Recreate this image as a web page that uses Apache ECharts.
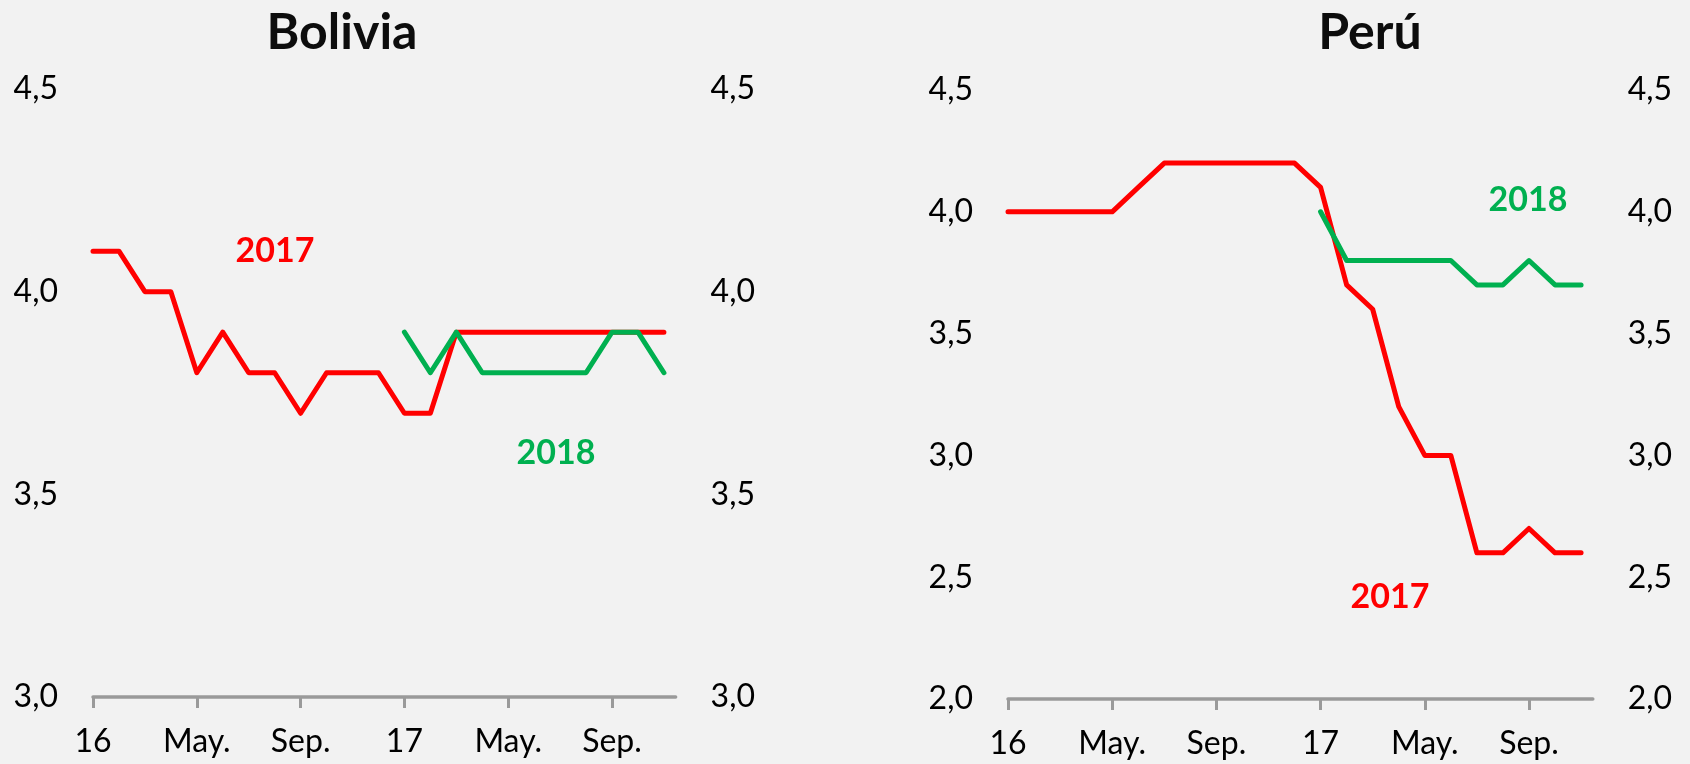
<!DOCTYPE html>
<html>
<head>
<meta charset="utf-8">
<script src="https://cdn.jsdelivr.net/npm/echarts@6/dist/echarts.min.js"></script>
<style>
  html, body { margin: 0; padding: 0; background: #f2f2f2; }
  #chart { width: 1690px; height: 764px; }
</style>
</head>
<body>
<div id="chart"></div>
<script>
// Monthly growth forecasts (%), January 2016 to November 2017
const months = [
  'Ene16','Feb16','Mar16','Abr16','May16','Jun16','Jul16','Ago16','Sep16','Oct16','Nov16','Dic16',
  'Ene17','Feb17','Mar17','Abr17','May17','Jun17','Jul17','Ago17','Sep17','Oct17','Nov17'
];

// Axis tick labels and the month each one marks
const tickLabels = ['16', 'May.', 'Sep.', '17', 'May.', 'Sep.'];
const tickMonths = ['Ene16', 'May16', 'Sep16', 'Ene17', 'May17', 'Sep17'];

const boliviaF2017 = [4.1, 4.1, 4.0, 4.0, 3.8, 3.9, 3.8, 3.8, 3.7, 3.8, 3.8, 3.8,
                      3.7, 3.7, 3.9, 3.9, 3.9, 3.9, 3.9, 3.9, 3.9, 3.9, 3.9];
const boliviaF2018 = [null, null, null, null, null, null, null, null, null, null, null, null,
                      3.9, 3.8, 3.9, 3.8, 3.8, 3.8, 3.8, 3.8, 3.9, 3.9, 3.8];

const peruF2017 = [4.0, 4.0, 4.0, 4.0, 4.0, 4.1, 4.2, 4.2, 4.2, 4.2, 4.2, 4.2,
                   4.1, 3.7, 3.6, 3.2, 3.0, 3.0, 2.6, 2.6, 2.7, 2.6, 2.6];
const peruF2018 = [null, null, null, null, null, null, null, null, null, null, null, null,
                   4.0, 3.8, 3.8, 3.8, 3.8, 3.8, 3.7, 3.7, 3.8, 3.7, 3.7];

const RED = '#ff0000';
const GREEN = '#00b050';
const AXIS_GREY = '#9a9a9a';
const FONT = 'Lato';

const tickPos = tickMonths.map(m => months.indexOf(m));
const toPoints = arr => arr.map((v, i) => [i, v]).filter(p => p[1] !== null);
const fmtComma = v => v.toFixed(1).replace('.', ',');

function xAxisFor(gridIndex) {
  return {
    type: 'value', gridIndex,
    min: 0, max: 22.45,
    splitLine: { show: false },
    axisLine: { show: true, lineStyle: { color: AXIS_GREY, width: 3.5 } },
    axisTick: { show: true, customValues: tickPos, length: 11, lineStyle: { color: AXIS_GREY, width: 3 } },
    axisLabel: {
      customValues: tickPos,
      formatter: v => tickLabels[tickPos.indexOf(v)] || '',
      fontFamily: FONT, fontSize: 32, color: '#000', margin: 29
    }
  };
}

function yAxisFor(gridIndex, position, min, max) {
  return {
    type: 'value', gridIndex, position,
    min, max, interval: 0.5,
    splitLine: { show: false },
    axisLine: { show: false },
    axisTick: { show: false },
    axisLabel: { formatter: fmtComma, fontFamily: FONT, fontSize: 32, color: '#000', margin: 35 }
  };
}

function lineSeries(name, data, color, xi, yi) {
  return {
    name, type: 'line', xAxisIndex: xi, yAxisIndex: yi,
    data: toPoints(data),
    symbol: 'none', silent: true,
    lineStyle: { color, width: 5, cap: 'round', join: 'round' }
  };
}

function note(text, x, y, color) {
  return {
    type: 'text', x, y, silent: true,
    style: { text, fill: color, font: `bold 34px ${FONT}`, align: 'center', verticalAlign: 'middle' }
  };
}

const chart = echarts.init(document.getElementById('chart'), null, { renderer: 'canvas' });

chart.setOption({
  backgroundColor: '#f2f2f2',
  animation: false,
  title: [
    { text: 'Bolivia', left: 337, top: 3, textAlign: 'center',
      textStyle: { fontFamily: FONT, fontWeight: 'bold', fontSize: 50, color: '#0d0d0d' } },
    { text: 'Perú', left: 1365, top: 3, textAlign: 'center',
      textStyle: { fontFamily: FONT, fontWeight: 'bold', fontSize: 50, color: '#0d0d0d' } }
  ],
  grid: [
    { left: 93, top: 89, width: 582.6, height: 608 },
    { left: 1008, top: 90, width: 584.8, height: 609 }
  ],
  xAxis: [xAxisFor(0), xAxisFor(1)],
  yAxis: [
    yAxisFor(0, 'left', 3.0, 4.5),
    yAxisFor(0, 'right', 3.0, 4.5),
    yAxisFor(1, 'left', 2.0, 4.5),
    yAxisFor(1, 'right', 2.0, 4.5)
  ],
  series: [
    lineSeries('Bolivia 2017', boliviaF2017, RED, 0, 0),
    lineSeries('Bolivia 2018', boliviaF2018, GREEN, 0, 0),
    lineSeries('Perú 2017', peruF2017, RED, 1, 2),
    lineSeries('Perú 2018', peruF2018, GREEN, 1, 2)
  ],
  graphic: [
    note('2017', 275, 251, RED),
    note('2018', 556, 453, GREEN),
    note('2018', 1528, 200, GREEN),
    note('2017', 1390, 597, RED)
  ]
});
</script>
</body>
</html>
